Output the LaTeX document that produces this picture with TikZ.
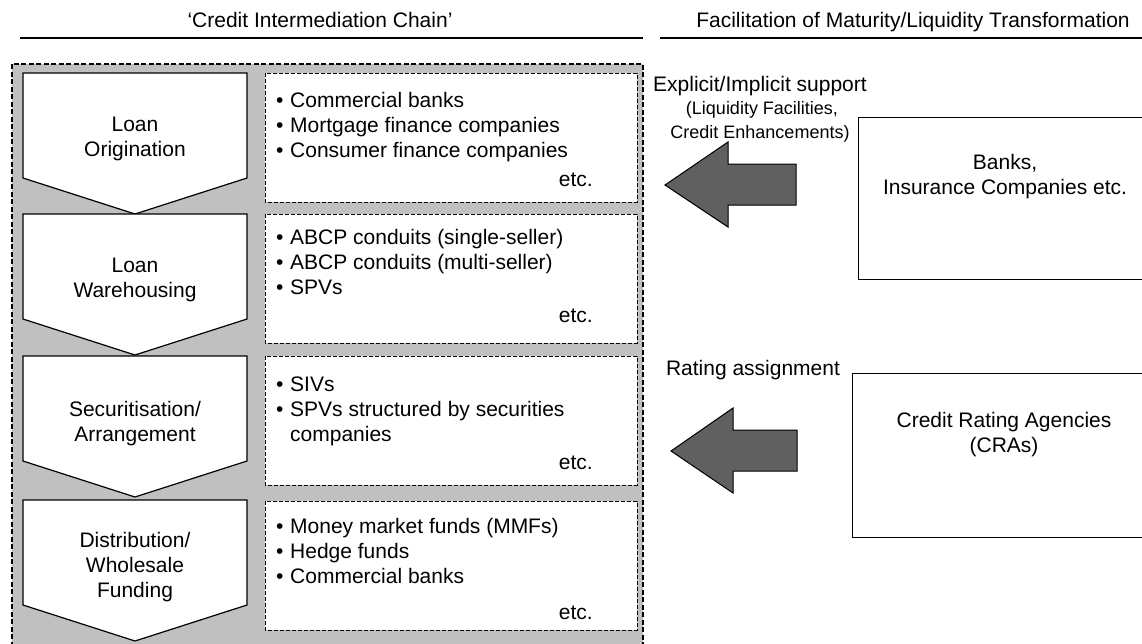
\documentclass[tikz,border=0pt]{standalone}
\usepackage{fontspec}
\setmainfont{Liberation Sans}
\definecolor{chaingray}{HTML}{C0C0C0}
\definecolor{arrowgray}{HTML}{606060}
\newcommand\bitem[1]{\makebox[14pt][l]{•}#1}
\begin{document}
\begin{tikzpicture}[x=1pt,y=-1pt,
  txt/.style={font=\fontsize{21}{25}\selectfont, inner sep=0pt},
  small/.style={font=\fontsize{18}{24}\selectfont, inner sep=0pt},
  pent/.style={draw=black, fill=white, line width=1.2pt, line join=miter},
  listbox/.style={draw=black, fill=white, dash pattern=on 4pt off 2pt, line width=0.9pt},
  outerbox/.style={draw=black, fill=chaingray, dash pattern=on 5pt off 2.5pt, line width=1.3pt},
  bigarrow/.style={draw=black, fill=arrowgray, line width=1pt, line join=miter},
  sidebox/.style={draw=black, fill=white, line width=1.2pt, inner sep=0pt, anchor=north west},
  rule/.style={line width=1.2pt}
]
\useasboundingbox (0,0) rectangle (1142,643);
\clip (0,0) rectangle (1142,643);

% headers
\node[txt, anchor=base] (h1) at (320,27) {‘Credit Intermediation Chain’};
\node[txt, anchor=base] (h2) at (913,27) {Facilitation of Maturity/Liquidity Transformation};
\draw[rule] (20,38) -- (643,38);
\draw[rule] (660,38) -- (1142,38);

% chain background
\draw[outerbox] (12,64) rectangle (643,700);

% pentagons
\foreach \t in {73,214,356,500}{
  \draw[pent] (23,\t) -- (247,\t) -- (247,\t+105) -- (135,\t+141) -- (23,\t+105) -- cycle;
}
\node[txt, align=center] (s1) at (135,139) {Loan\\Origination};
\node[txt, align=center] (s2) at (135,280) {Loan\\Warehousing};
\node[txt, align=center] (s3) at (135,424) {Securitisation/\\Arrangement};
\node[txt, align=center] (s4) at (135,567) {Distribution/\\Wholesale\\Funding};

% list boxes
\foreach \t in {73,214,356,501}{
  \draw[listbox] (265,\t) rectangle (637,\t+129);
}
\node[txt, align=left, anchor=north west] (b1) at (276,92) {\bitem{Commercial banks}\\\bitem{Mortgage finance companies}\\\bitem{Consumer finance companies}};
\node[txt, anchor=base east] (e1) at (593,186) {etc.};
\node[txt, align=left, anchor=north west] (b2) at (276,229) {\bitem{ABCP conduits (single-seller)}\\\bitem{ABCP conduits (multi-seller)}\\\bitem{SPVs}};
\node[txt, anchor=base east] (e2) at (593,322) {etc.};
\node[txt, align=left, anchor=north west] (b3) at (276,377) {\bitem{SIVs}\\\bitem{SPVs structured by securities}\\\hspace{14pt}companies};
\node[txt, anchor=base east] (e3) at (593,469) {etc.};
\node[txt, align=left, anchor=north west] (b4) at (276,518) {\bitem{Money market funds (MMFs)}\\\bitem{Hedge funds}\\\bitem{Commercial banks}};
\node[txt, anchor=base east] (e4) at (593,619) {etc.};

% right side boxes
\node[sidebox, minimum width=320pt, minimum height=162pt] (banks) at (858,117) {};
\node[txt, align=center, anchor=base] (banksT) at (1005,194) {Banks,\\Insurance Companies etc.};
\node[sidebox, minimum width=320pt, minimum height=164pt] (cra) at (852,373) {};
\node[txt, align=center, anchor=base] (craT) at (1004,452) {Credit Rating Agencies\\(CRAs)};

% labels
\node[txt, anchor=base] (sup) at (760,91) {Explicit/Implicit support};
\node[small, anchor=base] (sup2) at (762,114) {(Liquidity Facilities,};
\node[small, anchor=base] (sup3) at (760,138) {Credit Enhancements)};
\node[txt, anchor=base] (rat) at (753,375) {Rating assignment};

% block arrows
\coordinate (a1) at (665,185);
\draw[bigarrow] (a1) -- ++(63,-43) -- ++(0,22) -- ++(68,0) -- ++(0,41) -- ++(-68,0) -- ++(0,22) -- cycle;
\coordinate (a2) at (671,451);
\draw[bigarrow] (a2) -- ++(62,-43) -- ++(0,22) -- ++(64,0) -- ++(0,41) -- ++(-64,0) -- ++(0,22) -- cycle;
\end{tikzpicture}
\end{document}
